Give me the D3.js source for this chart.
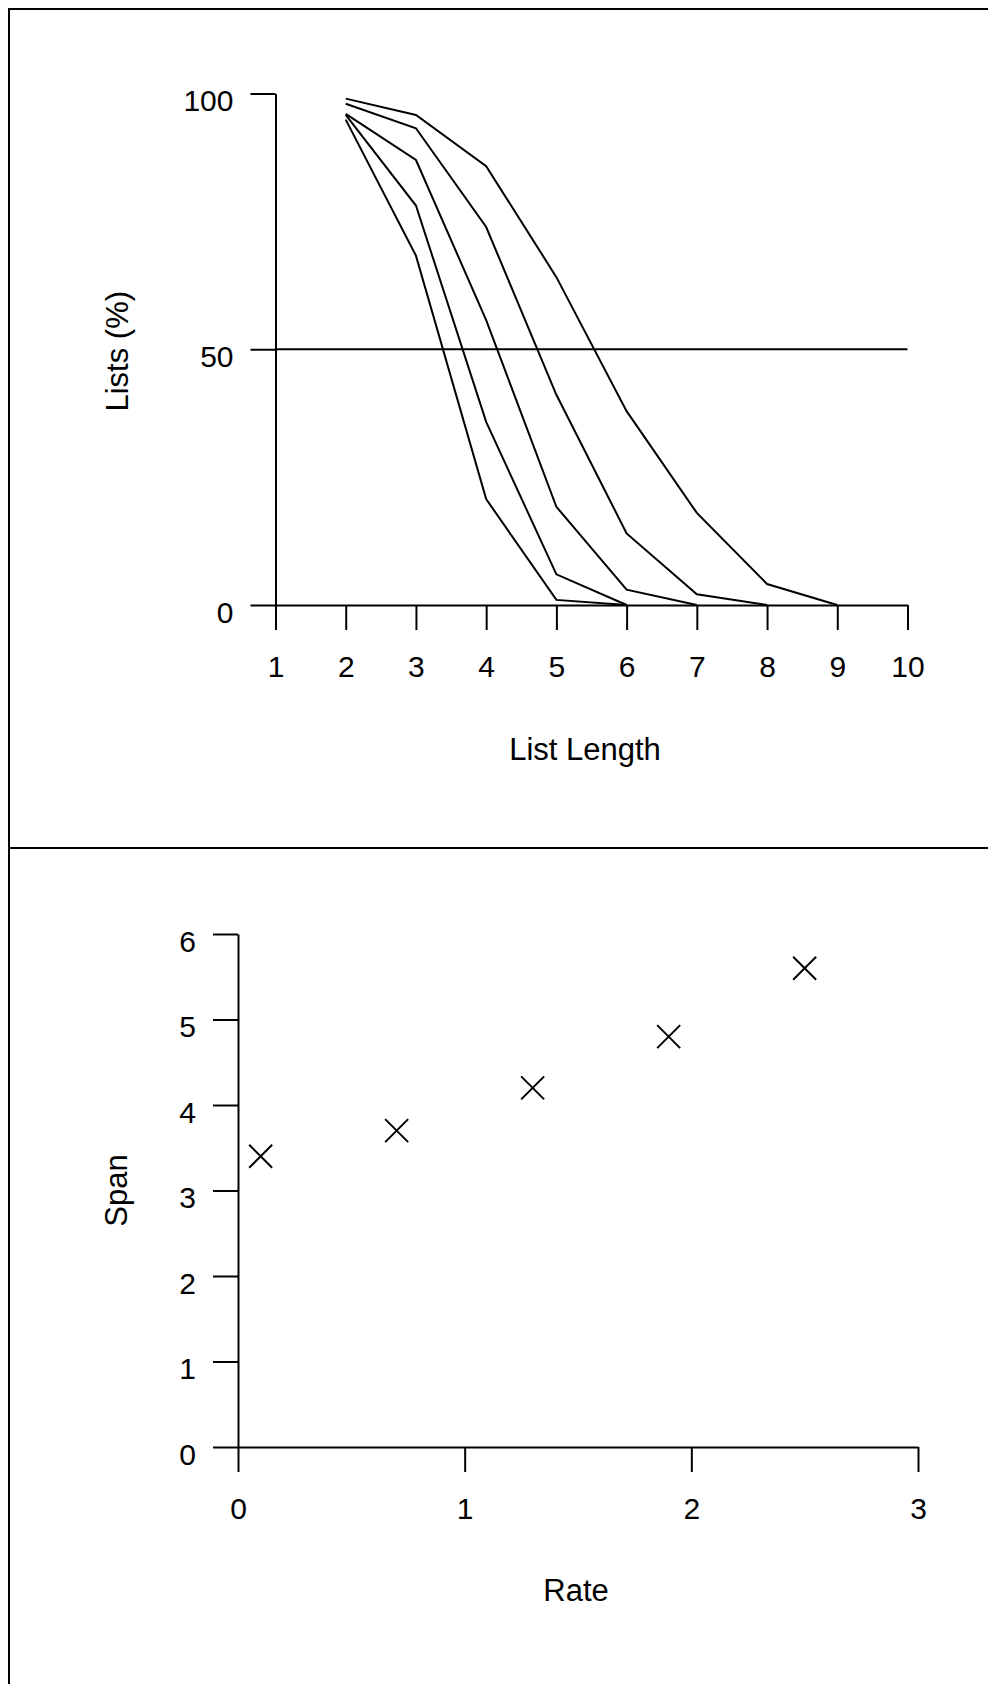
<!DOCTYPE html>
<html>
<head>
<meta charset="utf-8">
<script src="https://cdn.jsdelivr.net/npm/d3@7"></script>
<style>
  html, body { margin: 0; padding: 0; background: #fff; }
  svg { display: block; font-family: "Liberation Sans", Arial, sans-serif; }
</style>
</head>
<body>
<div id="chart"></div>
<script>
// top panel: % of lists recalled, by list length (5 curves)
const listLengths = [1, 2, 3, 4, 5, 6, 7, 8, 9, 10];
const listSeries = [
  { x: [2, 3, 4, 5, 6, 7, 8, 9], y: [99.0, 95.8, 85.8, 64.1, 37.9, 18.0, 4.1, 0] },
  { x: [2, 3, 4, 5, 6, 7, 8], y: [98.0, 93.2, 73.9, 41.1, 14.0, 2.1, 0] },
  { x: [2, 3, 4, 5, 6, 7], y: [96.0, 87.0, 55.7, 19.2, 3.0, 0] },
  { x: [2, 3, 4, 5, 6], y: [95.8, 78.1, 35.8, 6.0, 0] },
  { x: [2, 3, 4, 5, 6], y: [94.9, 68.3, 20.7, 1.0, 0] }
];
const listPctTicks = [0, 50, 100];
const halfLine = 50;

// bottom panel: span vs rate
const rates = [0.1, 0.7, 1.3, 1.9, 2.5];
const spans = [3.4, 3.7, 4.2, 4.8, 5.6];
const rateTicks = [0, 1, 2, 3];
const spanTicks = [0, 1, 2, 3, 4, 5, 6];

const W = 988, H = 1684;
const fontSize = 30;
const titleSize = 31;
const tickLen = 25;

const svg = d3.select('#chart').append('svg')
  .attr('width', W)
  .attr('height', H);

svg.append('rect').attr('width', W).attr('height', H).attr('fill', '#fff');

// frame + divider (right/bottom edges fall off the page)
svg.append('rect')
  .attr('x', 9).attr('y', 9)
  .attr('width', W + 20).attr('height', H + 20)
  .attr('fill', 'none').attr('stroke', '#000').attr('stroke-width', 2);
svg.append('line')
  .attr('x1', 9).attr('x2', W).attr('y1', 848).attr('y2', 848)
  .attr('stroke', '#000').attr('stroke-width', 2);

const styleAxis = (g, isLeft) => {
  g.attr('font-family', null).attr('font-size', fontSize);
  g.select('.domain').attr('stroke-width', 2);
  g.selectAll('.tick line').attr('stroke-width', 2);
  g.selectAll('.tick text').attr('fill', '#000');
  if (isLeft) {
    g.selectAll('.tick text').attr('dy', null).attr('y', 17).attr('x', -42);
  } else {
    g.selectAll('.tick text').attr('dy', null).attr('y', 72);
  }
};

// ---- top chart ----
const x1 = d3.scaleLinear().domain([1, 10]).range([275.5, 907.5]);
const y1 = d3.scaleLinear().domain([0, 100]).range([605, 93.5]);

svg.append('g')
  .attr('transform', `translate(0, ${y1(0)})`)
  .call(d3.axisBottom(x1).tickValues(listLengths).tickSize(tickLen).tickSizeOuter(0).tickFormat(d3.format('d')))
  .call(g => styleAxis(g, false));

svg.append('g')
  .attr('transform', `translate(${x1(1)}, 0)`)
  .call(d3.axisLeft(y1).tickValues(listPctTicks).tickSize(tickLen).tickSizeOuter(0))
  .call(g => styleAxis(g, true));

svg.append('line')
  .attr('x1', x1(1)).attr('x2', x1(10))
  .attr('y1', y1(halfLine)).attr('y2', y1(halfLine))
  .attr('stroke', '#000').attr('stroke-width', 2);

const line = d3.line()
  .x(d => x1(d[0]))
  .y(d => y1(d[1]));

svg.append('g').selectAll('path')
  .data(listSeries)
  .enter().append('path')
    .attr('d', s => line(d3.zip(s.x, s.y)))
    .attr('fill', 'none')
    .attr('stroke', '#000')
    .attr('stroke-width', 2);

svg.append('text')
  .attr('x', 585).attr('y', 760)
  .attr('text-anchor', 'middle')
  .attr('font-size', titleSize)
  .text('List Length');

svg.append('text')
  .attr('transform', `translate(128, ${(y1(0) + y1(100)) / 2 + 2}) rotate(-90)`)
  .attr('text-anchor', 'middle')
  .attr('font-size', titleSize)
  .text('Lists (%)');

// ---- bottom chart ----
const x2 = d3.scaleLinear().domain([0, 3]).range([238, 918]);
const y2 = d3.scaleLinear().domain([0, 6]).range([1447, 934]);

svg.append('g')
  .attr('transform', `translate(0, ${y2(0)})`)
  .call(d3.axisBottom(x2).tickValues(rateTicks).tickSize(tickLen).tickSizeOuter(0).tickFormat(d3.format('d')))
  .call(g => styleAxis(g, false));

svg.append('g')
  .attr('transform', `translate(${x2(0)}, 0)`)
  .call(d3.axisLeft(y2).tickValues(spanTicks).tickSize(tickLen).tickSizeOuter(0).tickFormat(d3.format('d')))
  .call(g => styleAxis(g, true));

const r = 11.5;
svg.append('g').selectAll('path')
  .data(d3.zip(rates, spans))
  .enter().append('path')
    .attr('transform', d => `translate(${x2(d[0])}, ${y2(d[1])})`)
    .attr('d', `M${-r},${-r}L${r},${r}M${-r},${r}L${r},${-r}`)
    .attr('stroke', '#000')
    .attr('stroke-width', 2);

svg.append('text')
  .attr('x', 576).attr('y', 1601)
  .attr('text-anchor', 'middle')
  .attr('font-size', titleSize)
  .text('Rate');

svg.append('text')
  .attr('transform', `translate(127, ${(y2(0) + y2(6)) / 2}) rotate(-90)`)
  .attr('text-anchor', 'middle')
  .attr('font-size', titleSize)
  .text('Span');
</script>
</body>
</html>
